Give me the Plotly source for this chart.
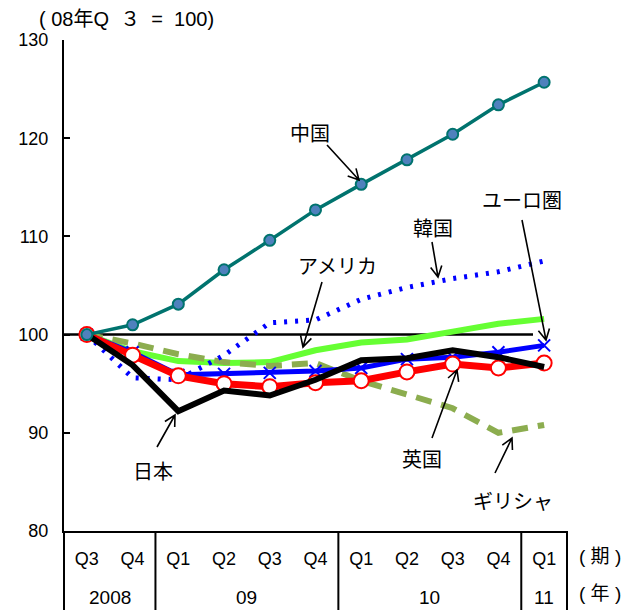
import math
import plotly.graph_objects as go

years = ["2008", "2008", "09", "09", "09", "09", "10", "10", "10", "10", "11"]
quarters = ["Q3", "Q4", "Q1", "Q2", "Q3", "Q4", "Q1", "Q2", "Q3", "Q4", "Q1"]

usa = [100, 98.3, 97.3, 97.1, 97.2, 98.4, 99.2, 99.5, 100.3, 101.1, 101.6]
greece = [100, 99.1, 98.0, 97.2, 96.8, 97.1, 95.3, 93.9, 92.5, 90.0, 90.8]
korea = [100, 95.6, 95.4, 97.9, 101.2, 101.5, 103.6, 104.8, 105.7, 106.4, 107.5]
euro = [100, 98.2, 95.9, 96.0, 96.1, 96.3, 96.6, 97.5, 97.7, 98.2, 98.9]
uk = [100, 97.9, 95.8, 95.0, 94.7, 95.1, 95.3, 96.2, 97.0, 96.6, 97.1]
japan = [100, 96.9, 92.2, 94.3, 93.8, 95.4, 97.4, 97.6, 98.4, 97.7, 96.7]
china = [100, 101.0, 103.1, 106.6, 109.6, 112.7, 115.3, 117.8, 120.4, 123.4, 125.7]

x = [f"{y} {q}" for y, q in zip(years, quarters)]

fig = go.Figure()
fig.add_trace(go.Scatter(x=x, y=usa, mode="lines", line=dict(color="#66ff33", width=6)))
fig.add_trace(go.Scatter(x=x, y=greece, mode="lines",
                         line=dict(color="#8cad4f", width=6, dash="16px,10px")))
fig.add_trace(go.Scatter(x=x, y=korea, mode="lines",
                         line=dict(color="#0000ff", width=5, dash="3px,8px")))
fig.add_trace(go.Scatter(x=x, y=euro, mode="lines+markers",
                         line=dict(color="#0000ff", width=5),
                         marker=dict(symbol="x-thin", size=12, line=dict(color="#0000ff", width=2))))
fig.add_trace(go.Scatter(x=x, y=uk, mode="lines+markers",
                         line=dict(color="#ff0000", width=7),
                         marker=dict(symbol="circle", size=15, color="white",
                                     line=dict(color="#ff0000", width=2))))
fig.add_trace(go.Scatter(x=x, y=japan, mode="lines", line=dict(color="black", width=6)))
fig.add_trace(go.Scatter(x=x, y=china, mode="lines+markers",
                         line=dict(color="#00736e", width=3.5),
                         marker=dict(symbol="circle", size=11, color="#4f81bd",
                                     line=dict(color="#00736e", width=2))))

L, R, T, B = 64, 567, 40, 531
PW, PH = R - L, B - T
N = len(x)


def fx(px):
    return (px - L) / PW


def fy(py):
    return (B - py) / PH


def fcat(i):
    return (i + 0.5) / N


shapes = []
shapes.append(dict(type="line", xref="paper", yref="y", x0=0, x1=fx(533), y0=100, y1=100,
                   line=dict(color="black", width=2.5), layer="below"))

groups = []
for i, y in enumerate(years):
    if not groups or groups[-1][0] != y:
        groups.append([y, i, i])
    else:
        groups[-1][2] = i
bounds = sorted({g[1] - 0.5 for g in groups} | {g[2] + 0.5 for g in groups})
for b in bounds:
    shapes.append(dict(type="line", xref="paper", yref="paper", x0=fcat(b), x1=fcat(b),
                       y0=0, y1=fy(612), line=dict(color="black", width=2)))


def arrow(tail, tip, length=12, ang=28):
    dx, dy = tip[0] - tail[0], tip[1] - tail[1]
    n = math.hypot(dx, dy)
    ux, uy = dx / n, dy / n
    pts = []
    for s in (1, -1):
        a = math.radians(ang) * s
        rx = ux * math.cos(a) - uy * math.sin(a)
        ry = ux * math.sin(a) + uy * math.cos(a)
        pts.append((tip[0] - length * rx, tip[1] - length * ry))
    p = (f"M {fx(tail[0])},{fy(tail[1])} L {fx(tip[0])},{fy(tip[1])} "
         f"M {fx(pts[0][0])},{fy(pts[0][1])} L {fx(tip[0])},{fy(tip[1])} "
         f"L {fx(pts[1][0])},{fy(pts[1][1])}")
    return dict(type="path", xref="paper", yref="paper", path=p,
                line=dict(color="black", width=1.6))


labels = [
    ("中国", (310, 132), (327, 145), (359, 180)),
    ("アメリカ", (337, 265), (322, 282), (303, 347)),
    ("日本", (153, 470), (157, 447), (175, 415)),
    ("英国", (422, 458), (432, 438), (457, 370)),
    ("ギリシャ", (513, 500), (495, 473), (512, 438)),
    ("ユーロ圏", (522, 200), (522, 220), (546, 340)),
    ("韓国", (433, 227), (432, 242), (438, 277)),
]

annotations = []
cjk = "Noto Sans CJK JP"
for text, c, tail, tip in labels:
    annotations.append(dict(text=text, x=fx(c[0]), y=fy(c[1]), xref="paper", yref="paper",
                            showarrow=False, xanchor="center", yanchor="middle",
                            font=dict(family=cjk, size=20, color="black")))
    shapes.append(arrow(tail, tip))

for g in groups:
    annotations.append(dict(text=g[0], x=fcat((g[1] + g[2]) / 2), y=fy(597),
                            xref="paper", yref="paper", showarrow=False,
                            xanchor="center", yanchor="middle",
                            font=dict(family="Liberation Sans", size=19, color="black")))

mixed = "Liberation Sans, Noto Sans CJK JP"
annotations.append(dict(text="( 08年Q  ３  =  100)", x=fx(37), y=fy(19), xref="paper", yref="paper",
                        showarrow=False, xanchor="left", yanchor="middle",
                        font=dict(family=mixed, size=20, color="black")))
annotations.append(dict(text="( 期 )", x=fx(600), y=fy(556), xref="paper", yref="paper",
                        showarrow=False, xanchor="center", yanchor="middle",
                        font=dict(family=mixed, size=19, color="black")))
annotations.append(dict(text="( 年 )", x=fx(600), y=fy(593), xref="paper", yref="paper",
                        showarrow=False, xanchor="center", yanchor="middle",
                        font=dict(family=mixed, size=19, color="black")))

fig.update_layout(
    width=630, height=610,
    margin=dict(l=L, r=630 - R, t=T, b=610 - B),
    plot_bgcolor="white", paper_bgcolor="white",
    showlegend=False,
    shapes=shapes,
    annotations=annotations,
    xaxis=dict(type="category", range=[-0.5, N - 0.5], showline=True, linecolor="black",
               linewidth=2, showgrid=False, zeroline=False, ticks="",
               tickvals=x, ticktext=quarters, ticklabelstandoff=10,
               tickfont=dict(family="Liberation Sans", size=18, color="black")),
    yaxis=dict(range=[80, 130], tickvals=[80, 90, 100, 110, 120, 130], showline=True,
               linecolor="black", linewidth=2, showgrid=False, zeroline=False,
               ticks="inside", ticklen=6, tickwidth=2, tickcolor="black",
               ticklabelstandoff=10,
               tickfont=dict(family="Liberation Sans", size=18, color="black")),
)

fig.write_html("out.html")
